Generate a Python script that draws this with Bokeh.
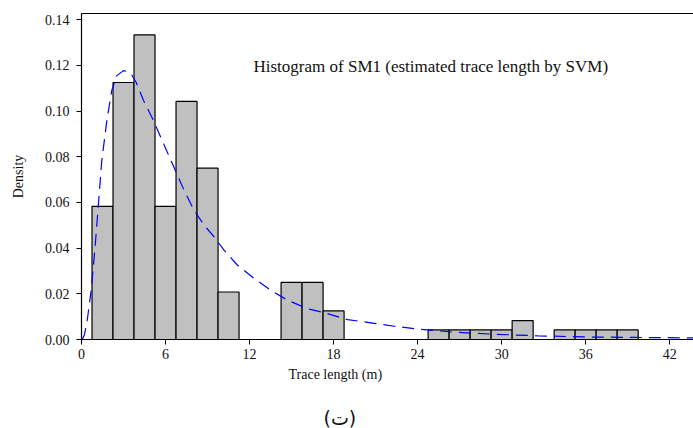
from bokeh.plotting import figure
from bokeh.models import Range1d, FixedTicker, LinearAxis, Label, Title, PrintfTickFormatter, ColumnDataSource
from bokeh.embed import file_html
from bokeh.resources import INLINE

# Histogram bins (trace length, m) and densities
bin_left = [0.75, 2.25, 3.75, 5.25, 6.75, 8.25, 9.75, 14.25, 15.75, 17.25,
            24.75, 26.25, 27.75, 29.25, 30.75, 33.75, 35.25, 36.75, 38.25]
bin_right = [2.25, 3.75, 5.25, 6.75, 8.25, 9.75, 11.25, 15.75, 17.25, 18.75,
             26.25, 27.75, 29.25, 30.75, 32.25, 35.25, 36.75, 38.25, 39.75]
density = [0.0583, 0.1125, 0.1333, 0.0583, 0.1042, 0.0750, 0.0208, 0.0250, 0.0250, 0.0125,
           0.0042, 0.0042, 0.0042, 0.0042, 0.0083, 0.0042, 0.0042, 0.0042, 0.0042]

# Fitted density curve
curve_x = [0.05, 0.2, 0.38, 0.69, 0.97, 1.21, 1.45, 1.81, 2.16, 2.52, 3.0, 3.47, 3.9, 4.43,
           5.14, 5.97, 6.65, 7.33, 8.04, 8.76, 9.47, 10.19, 11.14, 12.33, 13.52, 14.71,
           16.14, 17.3, 19.0, 20.66, 22.33, 24.24, 26.6, 29.5, 32.6, 36.1, 39.7, 43.7]
curve_y = [0.0, 0.002, 0.007, 0.0215, 0.0405, 0.0594, 0.0784, 0.0958, 0.109, 0.1155, 0.1177,
           0.117, 0.1126, 0.1046, 0.0958, 0.0842, 0.0747, 0.0653, 0.0565, 0.05, 0.0449,
           0.039, 0.0325, 0.0267, 0.0215, 0.0172, 0.0135, 0.0118, 0.0087, 0.0073, 0.0058,
           0.0044, 0.0032, 0.0023, 0.0016, 0.0011, 0.0009, 0.0007]

x_ticks = [0, 6, 12, 18, 24, 30, 36, 42]
y_ticks = [0.0, 0.02, 0.04, 0.06, 0.08, 0.10, 0.12, 0.14]

title_text = "Histogram of SM1 (estimated trace length by SVM)"
x_label = "Trace length (m)"
y_label = "Density"
caption = "(ت)"

SERIF = "Liberation Serif"
TXT = "#111111"

p = figure(width=693, height=428, output_backend="svg", toolbar_location=None,
           x_range=Range1d(0, 43.7), y_range=Range1d(0, 0.1427),
           min_border_left=81, min_border_right=0, min_border_top=13, min_border_bottom=89,
           background_fill_color="white", border_fill_color="white")
p.outline_line_color = None
p.xgrid.visible = False
p.ygrid.visible = False

src = ColumnDataSource(dict(left=bin_left, right=bin_right, top=density))
p.quad(left="left", right="right", bottom=0, top="top", source=src,
       fill_color="#c0c0c0", line_color="black", line_width=1.2)

p.line(curve_x, curve_y, line_color="#0000ff", line_width=1.2, line_dash="12 7")

for ax in (p.xaxis[0], p.yaxis[0]):
    ax.axis_line_color = "black"
    ax.axis_line_width = 1.2
    ax.major_tick_line_color = "black"
    ax.major_tick_out = 5
    ax.major_tick_in = 0
    ax.minor_tick_line_color = None
    ax.major_label_text_font = SERIF
    ax.major_label_text_font_size = "14px"
    ax.major_label_text_color = TXT

p.xaxis.ticker = FixedTicker(ticks=x_ticks)
p.xaxis.major_label_standoff = 4
p.yaxis.ticker = FixedTicker(ticks=y_ticks)
p.yaxis.formatter = PrintfTickFormatter(format="%.2f")
p.yaxis.major_label_standoff = 7
p.yaxis.axis_label = y_label
p.yaxis.axis_label_text_font = SERIF
p.yaxis.axis_label_text_font_size = "14px"
p.yaxis.axis_label_text_font_style = "normal"
p.yaxis.axis_label_text_color = TXT
p.yaxis.axis_label_standoff = 16

top_axis = LinearAxis(ticker=FixedTicker(ticks=[]), axis_line_color="black",
                      major_tick_line_color=None, minor_tick_line_color=None,
                      major_label_text_font_size="0px", major_label_standoff=0)
p.add_layout(top_axis, "above")

p.add_layout(Label(x=172, y=273, x_units="screen", y_units="screen", text=title_text,
                   text_font=SERIF, text_font_size="17px", text_color=TXT,
                   text_baseline="middle", text_align="left"))

p.add_layout(Title(text=x_label, align="left", offset=207, standoff=7,
                   text_font=SERIF, text_font_size="14px", text_font_style="normal",
                   text_color=TXT), "below")
# spacer between axis title and caption
p.add_layout(Title(text=" ", align="left", offset=0, standoff=16,
                   text_font=SERIF, text_font_size="1px", text_color="white"), "below")
p.add_layout(Title(text=caption, align="left", offset=242, standoff=0,
                   text_font="DejaVu Sans", text_font_size="19px", text_font_style="normal",
                   text_color=TXT), "below")

open("out.html", "w").write(file_html(p, INLINE))
